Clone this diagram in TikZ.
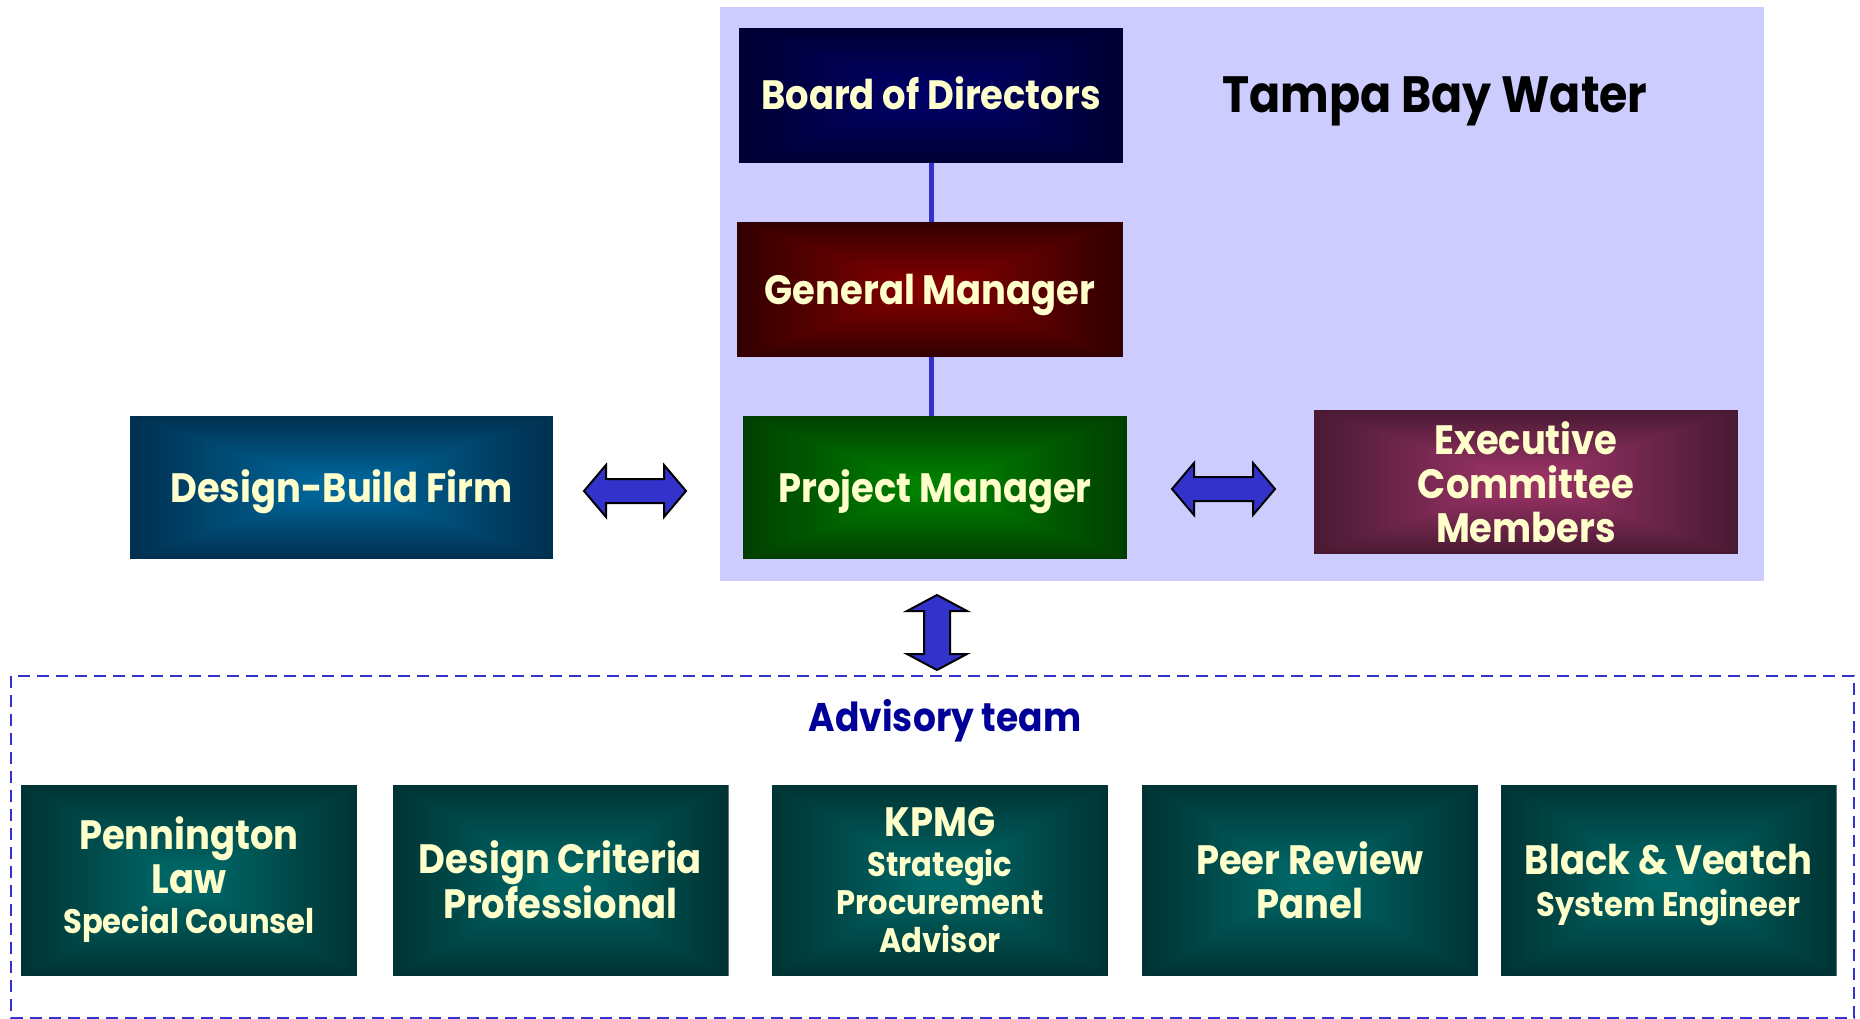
\documentclass[tikz,border=0pt]{standalone}
\usepackage{fontspec}
\usetikzlibrary{calc}
\newfontfamily\futfont[FakeStretch=0.9]{Poppins}
\definecolor{panel}{HTML}{CCCCFF}
\definecolor{linkblue}{HTML}{3333CC}
\definecolor{boxtext}{HTML}{FFFFCC}
\definecolor{teamblue}{HTML}{000099}
% glow colours (centre / rim) of the boxes
\definecolor{boardin}{HTML}{000066}  \definecolor{boardout}{HTML}{000033}
\definecolor{gmin}{HTML}{800000}     \definecolor{gmout}{HTML}{330000}
\definecolor{pmin}{HTML}{008000}     \definecolor{pmout}{HTML}{003F00}
\definecolor{exin}{HTML}{993366}     \definecolor{exout}{HTML}{4A1A33}
\definecolor{dbin}{HTML}{006699}     \definecolor{dbout}{HTML}{003050}
\definecolor{advin}{HTML}{006666}    \definecolor{advout}{HTML}{003333}
\tikzset{
  % box filled with a rectangular glow: rim colour #2 fading to centre colour #1
  glowbox/.style 2 args={rectangle, inner sep=0pt, text=boxtext, align=center,
    path picture={
      \foreach \k in {0,...,40}{
        \pgfmathsetmacro\frac{1-\k/40*0.88}
        \pgfmathtruncatemacro\pct{\k*100/40}
        \fill[#1!\pct!#2]
          ($(path picture bounding box.center)!\frac!(path picture bounding box.south west)$)
          rectangle
          ($(path picture bounding box.center)!\frac!(path picture bounding box.north east)$);
      }
    }},
  bigtxt/.style={font=\futfont\bfseries\fontsize{41}{44}\selectfont},
  oneline/.style={text height=29pt, text depth=0pt},
  advbox/.style={glowbox={advin}{advout}, minimum width=336pt, minimum height=191pt},
  conn/.style={draw=linkblue, line width=5pt},
  fatarrow/.style={fill=linkblue, draw=black, line width=2pt, line join=miter},
}
\newcommand{\smalltxt}{\fontsize{34}{38}\selectfont}
\begin{document}
\begin{tikzpicture}[x=1pt,y=-1pt]
\useasboundingbox (0,0) rectangle (1860,1019);
\fill[white] (0,0) rectangle (1860,1019);

% organisation panel
\fill[panel] (720,7) rectangle (1764,581);
\node[font=\futfont\bfseries\fontsize{51}{56}\selectfont, text=black, anchor=base] (tbw) at (1435,113) {Tampa Bay Water};

% chain of command
\node[glowbox={boardin}{boardout}, minimum width=384pt, minimum height=135pt, bigtxt, oneline] (board) at (931,95.5) {Board of Directors};
\node[glowbox={gmin}{gmout}, minimum width=386pt, minimum height=135pt, bigtxt, oneline] (gm) at (930,289.5) {General Manager};
\node[glowbox={pmin}{pmout}, minimum width=384pt, minimum height=143pt, bigtxt, oneline] (pm) at (935,487.5) {Project Manager};
\node[glowbox={exin}{exout}, minimum width=424pt, minimum height=144pt, bigtxt] (exec) at (1526,482) {Executive\\Committee\\Members};
\node[glowbox={dbin}{dbout}, minimum width=423pt, minimum height=143pt, bigtxt, oneline] (db) at (341.5,487.5) {Design-Build Firm};

\draw[conn] (board.south) -- (board.south |- gm.north);
\draw[conn] (board.south |- gm.south) -- (board.south |- pm.north);

% two-way arrows
\coordinate (la) at (635,491);
\coordinate (ra) at (1223.5,489);
\coordinate (va) at (937,632.5);
\draw[fatarrow] ($(la)+(-51,0)$) -- ++(22,-26) -- ++(0,14) -- ++(58,0) -- ++(0,-14) -- ++(22,26)
  -- ++(-22,26) -- ++(0,-14) -- ++(-58,0) -- ++(0,14) -- cycle;
\draw[fatarrow] ($(ra)+(-51.5,0)$) -- ++(22,-26) -- ++(0,14) -- ++(59,0) -- ++(0,-14) -- ++(22,26)
  -- ++(-22,26) -- ++(0,-14) -- ++(-59,0) -- ++(0,14) -- cycle;
\draw[fatarrow] ($(va)+(0,-37.5)$) -- ++(30,16) -- ++(-17,0) -- ++(0,43) -- ++(17,0) -- ++(-30,16)
  -- ++(-30,-16) -- ++(17,0) -- ++(0,-43) -- ++(-17,0) -- cycle;

% advisory team
\draw[linkblue, line width=2.6pt, dash pattern=on 12pt off 7pt] (11,676) rectangle (1854,1018);
\node[font=\futfont\bfseries\fontsize{40}{44}\selectfont, text=teamblue, anchor=base] (team) at (945,731) {Advisory team};

\node[advbox, bigtxt] (law) at (189,880) {Pennington\\Law\\[-4pt]{\smalltxt Special Counsel}};
\node[advbox, bigtxt] (dcp) at (560.5,880) {Design Criteria\\Professional};
\node[advbox, bigtxt] (kpmg) at (940,880) {KPMG\\[-4pt]{\smalltxt Strategic}\\[-6pt]{\smalltxt Procurement}\\[-6pt]{\smalltxt Advisor}};
\node[advbox, bigtxt] (peer) at (1310,880) {Peer Review\\Panel};
\node[advbox, bigtxt, text depth=-3pt] (bv) at (1668.5,880) {Black \& Veatch\\[-2pt]{\smalltxt System Engineer}};
\end{tikzpicture}
\end{document}
